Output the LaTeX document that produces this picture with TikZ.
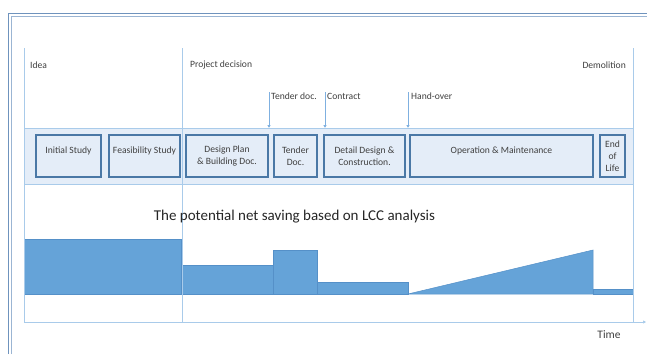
\documentclass[tikz,border=0pt]{standalone}
\usepackage{fontspec}
\setmainfont{Carlito}
\usetikzlibrary{arrows.meta}
\definecolor{frameblue}{HTML}{6F93BD}
\definecolor{frameblue2}{HTML}{9BB5D3}
\definecolor{lineblue}{HTML}{A9CBEA}
\definecolor{arrowblue}{HTML}{7FB0E0}
\definecolor{bandfill}{HTML}{E4EDF8}
\definecolor{boxborder}{HTML}{4A78A6}
\definecolor{barfill}{HTML}{65A3D8}
\definecolor{barline}{HTML}{5590C8}
\definecolor{txt}{HTML}{404040}
\begin{document}
\begin{tikzpicture}[x=1pt,y=-1pt,
  stagebox/.style={draw=boxborder, line width=1.8pt, fill=bandfill, inner sep=0pt, align=center,
    minimum height=42pt, font=\fontsize{9.6}{12}\selectfont, text=txt},
  lbl/.style={font=\fontsize{9.6}{11}\selectfont, text=txt, inner sep=0pt},
  guide/.style={draw=lineblue, line width=0.7pt},
  milestone/.style={draw=arrowblue, line width=0.6pt, -{Triangle[length=2.5pt,width=3pt]}},
  bar/.style={fill=barfill, draw=barline, line width=0.5pt}]
\useasboundingbox (0,0) rectangle (647,354);
\fill[white] (0,0) rectangle (647,354);
% frame
\draw[frameblue, line width=1.3pt] (8.5,354) -- (8.5,13.5) -- (647,13.5);
\draw[frameblue2, line width=0.8pt] (11,354) -- (11,16) -- (647,16);
% band
\node[fill=bandfill, draw=lineblue, line width=0.6pt, minimum width=609pt, minimum height=56pt, inner sep=0pt] (band) at (328.5,156) {};
% guide lines
\coordinate (g1t) at (24,48); \coordinate (g1b) at (24,322);
\coordinate (g2t) at (182,48); \coordinate (g2b) at (182,322);
\coordinate (g3t) at (633,48); \coordinate (g3b) at (633,322);
\coordinate (axisend) at (646,322);
% stages
\node[stagebox, minimum width=65pt] (s1) at (68.5,156) {Initial Study\\\mbox{}};
\node[stagebox, minimum width=71pt] (s2) at (144.5,156) {Feasibility Study\\\mbox{}};
\node[stagebox, minimum width=82pt] (s3) at (227,156) {Design Plan\\\& Building Doc.};
\node[stagebox, minimum width=43pt] (s4) at (295.5,156) {Tender\\Doc.};
\node[stagebox, minimum width=81pt] (s5) at (364.5,156) {Detail Design \&\\Construction.};
\node[stagebox, minimum width=183pt] (s6) at (501.5,156) {Operation \& Maintenance\\\mbox{}};
\node[stagebox, minimum width=25pt] (s7) at (612.5,156) {End\\of\\Life};
% bars
\draw[bar] (24,294) -- (24,239) -- (181,239) -- (181,294) -- cycle;
\draw[bar] (181,294) -- (181,265) -- (273,265) -- (273,294) -- cycle;
\draw[bar] (273,294) -- (273,250) -- (317,250) -- (317,294) -- cycle;
\draw[bar] (317,294) -- (317,282) -- (408,282) -- (408,294) -- cycle;
\draw[bar] (408,294) -- (593,250) -- (593,294) -- cycle;
\draw[bar] (593,294) -- (593,289) -- (633,289) -- (633,294) -- cycle;
% guide lines drawn
\draw[guide] (g1t) -- (g1b);
\draw[guide] (g2t) -- (g2b);
\draw[guide] (g3t) -- (g3b);
\draw[guide, -{Triangle[length=3pt,width=3pt]}, draw=lineblue] (g1b) -- (axisend);
% milestone labels
\node[lbl, anchor=west] (idea) at (30,65) {Idea};
\node[lbl, anchor=west] (pd) at (190,65) {Project decision};
\node[lbl, anchor=east] (demo) at (626,65) {Demolition};
\coordinate (m1) at (269,92);
\coordinate (m2) at (325,92);
\coordinate (m3) at (408,92);
\draw[milestone] (m1) -- (m1 |- band.north);
\draw[milestone] (m2) -- (m2 |- band.north);
\draw[milestone] (m3) -- (m3 |- band.north);
\node[lbl, anchor=west] (l1) at (271,96) {Tender doc.};
\node[lbl, anchor=west] (l2) at (327,96) {Contract};
\node[lbl, anchor=west] (l3) at (411,96) {Hand-over};
% title and time
\node[font=\fontsize{15}{18}\selectfont, text=black!85, inner sep=0pt] (title) at (294.5,217) {The potential net saving based on LCC analysis};
\node[font=\fontsize{11.5}{13}\selectfont, text=txt, inner sep=0pt] (time) at (609,335) {Time};
\end{tikzpicture}
\end{document}
